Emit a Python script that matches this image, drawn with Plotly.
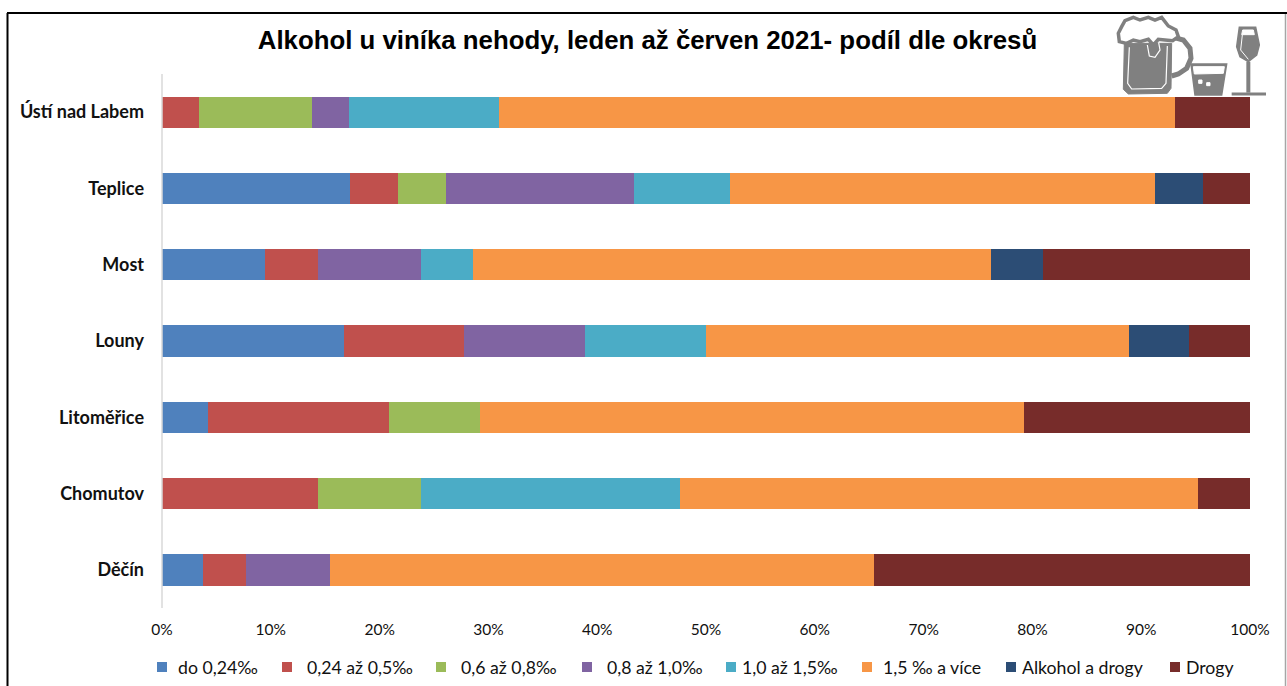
import plotly.graph_objects as go

W, H = 1287, 686
categories = ["Děčín", "Chomutov", "Litoměřice", "Louny", "Most", "Teplice", "Ústí nad Labem"]
do_024 = [3.8, 0, 4.2, 16.7, 9.5, 17.3, 0]
a024_05 = [3.9, 14.3, 16.7, 11.1, 4.8, 4.4, 3.4]
a06_08 = [0, 9.5, 8.3, 0, 0, 4.4, 10.4]
a08_10 = [7.7, 0, 0, 11.1, 9.5, 17.3, 3.4]
a10_15 = [0, 23.8, 0, 11.1, 4.8, 8.8, 13.8]
a15_plus = [50.0, 47.6, 50.0, 38.9, 47.6, 39.1, 62.1]
alk_drogy = [0, 0, 0, 5.5, 4.8, 4.4, 0]
drogy = [34.6, 4.8, 20.8, 5.6, 19.0, 4.3, 6.9]

series_names = ["do 0,24‰", "0,24 až 0,5‰", "0,6 až 0,8‰", "0,8 až 1,0‰", "1,0 až 1,5‰", "1,5 ‰ a více", "Alkohol a drogy", "Drogy"]
series_values = [do_024, a024_05, a06_08, a08_10, a10_15, a15_plus, alk_drogy, drogy]
colors = ["#4F81BD", "#C0504D", "#9BBB59", "#8064A2", "#4BACC6", "#F79646", "#2C4D75", "#772C2A"]
tick_vals = list(range(0, 101, 10))
tick_text = [f"{v}%" for v in tick_vals]

L, R, T, B = 162, 1250, 74, 608
legend_marker_x = [157, 282, 436, 582, 726, 862, 1006, 1170]
legend_text_x = [177, 306, 460, 606, 741, 882, 1021, 1185]
legend_y = 667

fig = go.Figure()
for n, v, c in zip(series_names, series_values, colors):
    fig.add_trace(go.Bar(y=categories, x=v, name=n, orientation="h", marker=dict(color=c, line_width=0), hoverinfo="x+y+name"))

def px(x): return (x - L) / (R - L)
def py(y): return (B - y) / (B - T)
def zoomed(points, close=True):
    # icon outline traced on a 3x crop whose origin is (1090, 0)
    s = "M" + " L".join(f"{px(1090 + a / 3):.5f},{py(b / 3):.5f}" for a, b in points)
    return s + (" Z" if close else "")
def icon(points, fill="rgba(0,0,0,0)", color="#808080", width=1, close=True):
    return dict(type="path", xref="paper", yref="paper", path=zoomed(points, close), fillcolor=fill,
                line=dict(color=color, width=width))

G = "#808080"
shapes = [
    dict(type="line", xref="paper", yref="paper", x0=0, x1=0, y0=0, y1=1, line=dict(color="#D9D9D9", width=1.5)),
    dict(type="line", xref="paper", yref="paper", x0=px(7.5), x1=px(7.5), y0=py(13), y1=py(686), line=dict(color="black", width=2)),
    dict(type="line", xref="paper", yref="paper", x0=px(7), x1=px(1287), y0=py(13), y1=py(13), line=dict(color="black", width=2)),
    dict(type="line", xref="paper", yref="paper", x0=px(1285.5), x1=px(1285.5), y0=py(14), y1=py(686), line=dict(color="#A6A6A6", width=1.5)),
    # handle
    icon([(250,112),(280,120),(300,145),(303,175),(290,205),(265,222),(245,228)], color=G, width=5, close=False),
    # mug body
    icon([(103,130),(245,130),(243,265),(232,280),(115,282),(100,268)], fill=G, color=G),
    icon([(118,142),(113,250),(125,267),(215,265),(228,250),(232,138)], color="white", width=1.2, close=False),
    # foam
    icon([(88,125),(85,100),(95,80),(105,62),(130,52),(150,60),(175,52),(195,60),(215,52),(235,78),(258,90),(265,110),(248,122),(225,120),(205,118),(190,135),(175,118),(150,125),(130,120),(110,130)],
         fill="white", color=G, width=3.5),
    icon([(172,135),(178,168),(195,172),(210,150),(206,128)], fill=G, color="white", width=1.2, close=False),
    # tumbler
    icon([(303,192),(410,192),(395,285),(315,285)], fill=G, color=G, width=1.5),
    icon([(310,200),(403,200),(400,220),(313,222)], fill="white", color="white"),
    icon([(326,240),(336,240),(336,250),(326,250)], fill="white", color="white"),
    icon([(350,248),(360,248),(360,257),(350,257)], fill="white", color="white"),
    # wine glass
    icon([(448,82),(497,82),(508,135),(500,165),(475,185),(450,170),(440,140)], fill=G, color=G, width=1.5),
    icon([(458,90),(490,90),(493,104),(455,104)], fill="white", color="white"),
    icon([(457,105),(452,150),(475,178)], color="white", width=1, close=False),
    icon([(475,185),(475,278)], color=G, width=4, close=False),
    icon([(425,282),(528,282)], color=G, width=3, close=False),
]

annotations = []
for n, c, mx, tx in zip(series_names, colors, legend_marker_x, legend_text_x):
    shapes.append(dict(type="rect", xref="paper", yref="paper", x0=px(mx), x1=px(mx + 10),
                       y0=py(legend_y - 5), y1=py(legend_y + 5), fillcolor=c, line_width=0))
    annotations.append(dict(text=n, xref="paper", yref="paper", x=px(tx), y=py(legend_y), xanchor="left", yanchor="middle",
                            showarrow=False, xshift=-1, font=dict(size=17.7, family="Lato, sans-serif", color="#111111")))

fig.update_layout(
    width=W, height=H, autosize=False,
    barmode="stack", bargap=0.59,
    margin=dict(l=L, r=W - R, t=T, b=H - B, autoexpand=False),
    paper_bgcolor="white", plot_bgcolor="white",
    font=dict(family="Lato, sans-serif", color="#111111", size=15.5),
    title=dict(text="<b>Alkohol u viníka nehody, leden až červen 2021- podíl dle okresů</b>", x=647.5 / W, xanchor="center", y=1 - 40 / H, yanchor="middle",
               font=dict(family="Liberation Sans, Arial, sans-serif", size=25.8, color="#000000")),
    xaxis=dict(range=[0, 100], tickvals=tick_vals, ticktext=tick_text, showgrid=False, zeroline=False, showline=False, ticks="", tickfont=dict(size=15.5), ticklabelstandoff=10),
    yaxis=dict(categoryorder="array", categoryarray=categories, showgrid=False, ticks="", showline=False, tickfont=dict(size=18, family="Lato, sans-serif", weight="bold"), ticklabelstandoff=17),
    showlegend=False,
    shapes=shapes,
    annotations=annotations,
)
fig.write_html("out.html", config={"displayModeBar": False},
               post_script="document.body.style.margin='0';document.body.style.overflow='hidden';")
